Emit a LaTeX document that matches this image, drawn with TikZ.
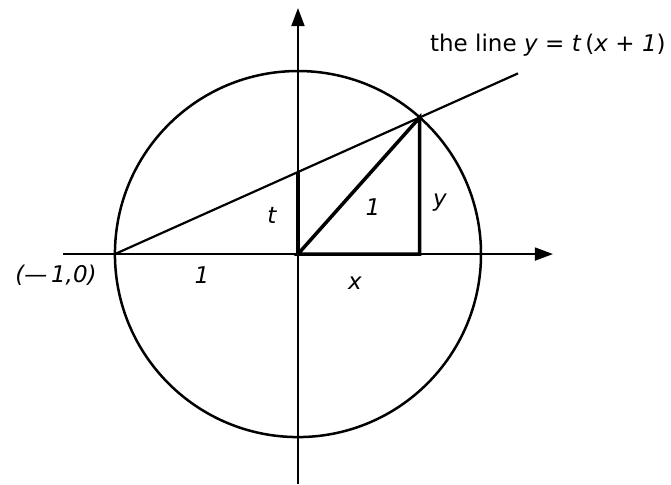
\documentclass[tikz,border=0pt]{standalone}
\usepackage{fontspec}
\setmainfont{DejaVu Sans}
\usepackage{tikz}
\usetikzlibrary{arrows.meta}

\tikzset{
  axis/.style={line width=1.8bp, -{Triangle[length=18bp,width=13bp]}},
  thin line/.style={line width=2.2bp},
  thick line/.style={line width=3.5bp},
  lbl/.style={font=\fontsize{23bp}{27bp}\selectfont\itshape, inner sep=0pt}
}

\begin{document}
\begin{tikzpicture}[x=183bp, y=183bp]
  \useasboundingbox (-1.628,-1.257) rectangle (2.038,1.388);

  % points
  \coordinate (O) at (0,0);
  \coordinate (A) at (-1,0);
  \coordinate (P) at (48.3:1);
  \coordinate (T) at (0,0.4484);
  \coordinate (F) at (P|-O);
  \coordinate (L) at (1.202,0.987);

  % axes
  \coordinate (xl) at (-1.284,0);
  \coordinate (xr) at (1.393,0);
  \coordinate (yb) at (0,-1.257);
  \coordinate (yt) at (0,1.344);
  \draw[axis] (xl) -- (xr);
  \draw[axis] (yb) -- (yt);

  % circle
  \draw[thin line, line width=2.5bp] (O) circle (1);

  % the line through (-1,0)
  \draw[thin line] (A) -- (L);

  % triangle and t
  \draw[thick line] (O) -- (T);
  \draw[thick line] (O) -- (P) -- (F) -- cycle;

  % labels
  \node[lbl, anchor=base west] (title) at (0.721,1.104)
    {\upshape the line \textit{y} = \textit{t}\,(\textit{x} + \textit{1})};
  \node[lbl] (tlbl) at (-0.142,0.213) {t};
  \node[lbl] (one) at (0.410,0.257) {1};
  \node[lbl] (ylbl) at (0.776,0.279) {y};
  \node[lbl] (xlbl) at (0.311,-0.158) {x};
  \node[lbl] (oneleft) at (-0.525,-0.115) {1};
  \node[lbl] (alabel) at (-1.322,-0.115) {(—\,1,0)};
\end{tikzpicture}
\end{document}
